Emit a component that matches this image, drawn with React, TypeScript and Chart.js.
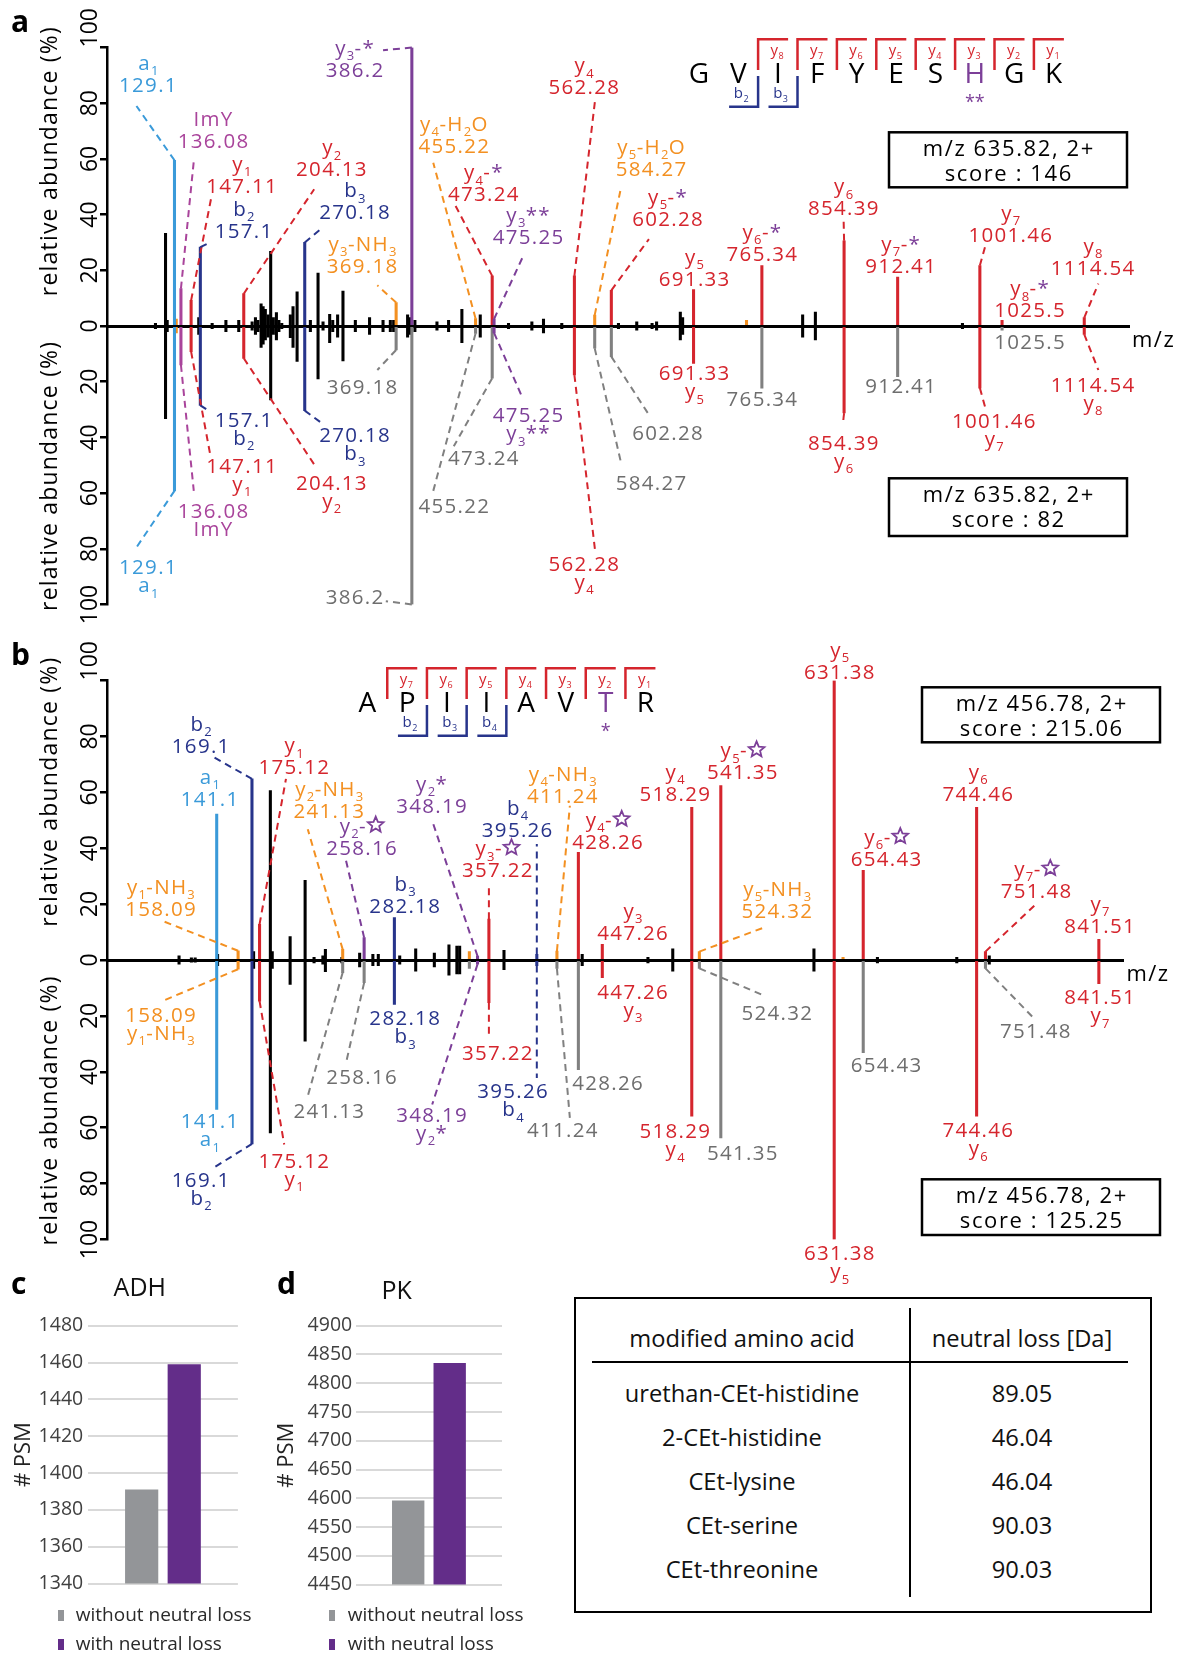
import React, { useEffect, useRef } from 'react';
import { Chart, registerables } from 'chart.js';

Chart.register(...registerables);

const FONT = "'Open Sans', 'DejaVu Sans', sans-serif";
const font = (size: number, weight = 'normal') => `${weight} ${size}px ${FONT}`;

// ---------------- DATA: panel a (m/z 635.82, 2+) ----------------
const aBlackMz = [108.5, 119.4, 121.2, 155.4, 169.9, 184.8, 198.7, 213.2, 216.8, 219.5, 222.9, 225.1, 227.5, 230.5, 233.3, 236.2, 239.5, 242.2, 245.3, 254.6, 257.5, 261.9, 276.3, 284.6, 290.0, 297.2, 300.5, 305.8, 311.6, 325.0, 340.4, 355.0, 362.9, 366.5, 381.6, 384.0, 389.5, 413.4, 426.0, 440.4, 460.3, 490.9, 516.2, 528.8, 548.6, 610.0, 629.8, 646.4, 651.3, 677.0, 679.5, 809.5, 823.3, 982.6];
const aBlackTop = [1, 33.3, 2, 3, 1, 2, 2, 1.5, 3, 2, 8, 7, 6, 4, 26.8, 3, 4.8, 2, 1, 4, 7, 12.3, 2, 19, 1.5, 4.2, 2, 4, 12.5, 2, 3, 2, 2, 2, 4, 3, 2, 1.5, 2, 6, 4, 1, 1.5, 2.5, 1, 1, 1.5, 1, 1.5, 5, 3, 4, 5, 1];
const aBlackBottom = [1, 33.3, 2, 3, 1, 2, 2, 1.5, 3, 2, 7.7, 6.5, 5, 4, 26.5, 3, 5, 2, 1, 4.2, 7.7, 12.7, 2, 19, 1.5, 6, 2, 4, 12.5, 2, 3, 2, 2, 2, 4, 3, 2, 1.5, 2, 6, 4, 1, 1.5, 2.5, 1, 1, 1.5, 1, 1.5, 5, 3, 4, 5, 1];
// [m/z, top %, bottom %, top ion type, bottom ion type]
const aMinor: [number, number, number, string, string][] = [
  [131.0, 2.5, 2.5, 'nl', 'nl'],
  [748.7, 2, 0, 'nl', 'pred'],
];
// [label, height %, label m/z, label %, leader m/z, leader %, ion name, ion type]
type Ion = [string, number, number, number, number | null, number | null, string, string];
const aTopIons: Ion[] = [
  ['129.1', 59.5, 100.2, 86.6, 87.9, 79.0, 'a_1', 'a'],
  ['136.08', 13.4, 170.7, 66.4, 150.0, 59.2, 'ImY', 'imm'],
  ['147.11', 9.2, 201.6, 50.3, 168.6, 45.5, 'y_1', 'y'],
  ['157.1', 28.3, 203.8, 34.2, 164.5, 29.5, 'b_2', 'b'],
  ['204.13', 11.6, 299.0, 56.2, 280.4, 49.1, 'y_2', 'y'],
  ['270.18', 30.0, 324.0, 40.8, 288.7, 35.1, 'b_3', 'b'],
  ['369.18', 8.4, 332.2, 21.7, 348.8, 14.6, 'y_3-NH_3', 'nl'],
  ['386.2', 100, 324.0, 92.0, 355.0, 99.0, 'y_3-*', 'mod'],
  ['455.22', 2.7, 431.6, 64.6, 409.4, 58.6, 'y_4-H_2O', 'nl'],
  ['473.24', 18.0, 463.5, 47.3, 433.6, 43.1, 'y_4-*', 'y'],
  ['475.25', 2.5, 512.0, 31.9, 506.2, 24.7, 'y_3**', 'mod'],
  ['562.28', 18.0, 572.3, 85.7, 584.7, 81.2, 'y_4', 'y'],
  ['584.27', 3.9, 645.3, 56.5, 612.0, 48.5, 'y_5-H_2O', 'nl'],
  ['602.28', 12.8, 663.0, 38.4, 643.0, 31.2, 'y_5-*', 'y'],
  ['691.33', 13.1, 691.9, 17.0, null, null, 'y_5', 'y'],
  ['765.34', 21.7, 765.3, 25.9, null, null, 'y_6-*', 'y'],
  ['854.39', 30.6, 853.4, 42.2, 853.9, 37.8, 'y_6', 'y'],
  ['912.41', 17.6, 915.6, 21.7, null, null, 'y_7-*', 'y'],
  ['1001.46', 21.7, 1034.4, 32.7, 1007.5, 28.9, 'y_7', 'y'],
  ['1025.5', 2.0, 1055.2, 5.6, null, null, 'y_8-*', 'y'],
  ['1114.54', 3.0, 1123.4, 20.8, 1129.8, 15.2, 'y_8', 'y'],
];
const aBottomIons: Ion[] = [
  ['129.1', -59.2, 100.2, -86.6, 87.9, -79.5, 'a_1', 'a'],
  ['136.08', -14.0, 170.7, -66.3, 150.0, -59.2, 'ImY', 'imm'],
  ['147.11', -9.2, 201.6, -50.2, 167.7, -46.0, 'y_1', 'y'],
  ['157.1', -28.5, 203.8, -33.6, 164.5, -30.1, 'b_2', 'b'],
  ['204.13', -11.6, 299.0, -56.3, 280.4, -49.7, 'y_2', 'y'],
  ['270.18', -30.4, 324.0, -39.2, 290.8, -35.4, 'b_3', 'b'],
  ['369.18', -8.6, 332.2, -22.0, 348.8, -15.8, '', 'pred'],
  ['386.2', -100, 324.0, -97.3, 358.0, -98.8, '', 'pred'],
  ['455.22', -2.7, 431.6, -64.6, 409.4, -59.2, '', 'pred'],
  ['473.24', -18.75, 463.5, -47.3, 431.6, -43.2, '', 'pred'],
  ['475.25', -2.5, 512.0, -32.1, 506.2, -25.9, 'y_3**', 'mod'],
  ['562.28', -17.6, 572.3, -85.4, 584.7, -80.7, 'y_4', 'y'],
  ['584.27', -8.0, 645.3, -56.3, 613.2, -49.7, '', 'pred'],
  ['602.28', -11.0, 663.0, -38.4, 643.0, -31.9, '', 'pred'],
  ['691.33', -13.4, 691.9, -17.0, null, null, 'y_5', 'y'],
  ['765.34', -22.3, 765.3, -26.1, null, null, '', 'pred'],
  ['854.39', -31.25, 853.4, -42.0, 853.0, -35.4, 'y_6', 'y'],
  ['912.41', -18.2, 915.6, -21.7, null, null, '', 'pred'],
  ['1001.46', -22.3, 1016.5, -34.0, 1007.5, -29.5, 'y_7', 'y'],
  ['1025.5', -1.5, 1055.2, -5.6, null, null, '', 'pred'],
  ['1114.54', -3.0, 1123.4, -21.1, 1129.8, -15.8, 'y_8', 'y'],
];

// ---------------- DATA: panel b (m/z 456.78, 2+) ----------------
const bBlackMz = [111.2, 121.0, 124.0, 141.8, 170.4, 183.7, 185.2, 199.4, 211.3, 218.4, 225.4, 227.4, 240.5, 254.6, 265.1, 269.4, 286.4, 299.1, 313.9, 325.5, 331.8, 334.0, 369.2, 431.3, 483.5, 503.2, 615.3, 665.7, 728.7, 754.5];
const bBlackTop = [1.5, 0.8, 0.8, 2, 3, 60.6, 3, 8.4, 28.5, 1, 1.5, 3.8, 1, 2.5, 2, 2, 1.5, 4, 2.5, 5.4, 5, 5, 3.5, 2, 1, 4, 4, 1, 1, 1.5];
const bBlackBottom = [1.5, 0.8, 0.8, 2, 3, 61.9, 3, 8.7, 29, 1, 1.5, 4.2, 1, 2.5, 2, 2, 1.5, 4, 2.5, 5.4, 5, 5, 3.5, 2, 1, 4, 4, 1, 1, 1.5];
const bMinor: [number, number, number, string, string][] = [
  [341.7, 3, 3, 'nl', 'pred'],
  [638.4, 1, 0, 'nl', 'pred'],
];
const bTopIons: Ion[] = [
  ['169.1', 64.8, 128.3, 76.7, 139.0, 72.5, 'b_2', 'b'],
  ['141.1', 52.2, 135.3, 57.6, null, null, 'a_1', 'a'],
  ['175.12', 12.8, 202.2, 68.9, 196.1, 64.8, 'y_1', 'y'],
  ['158.09', 3.3, 96.4, 18.2, 97.9, 14.0, 'y_1-NH_3', 'nl'],
  ['241.13', 3.8, 230.1, 53.4, 213.4, 46.8, 'y_2-NH_3', 'nl'],
  ['258.16', 8.0, 256.0, 40.2, 243.8, 35.5, 'y_2-☆', 'mod'],
  ['348.19', 1.4, 311.6, 55.2, 312.2, 49.8, 'y_2*', 'mod'],
  ['282.18', 15.2, 290.3, 19.4, null, null, 'b_3', 'b'],
  ['357.22', 14.6, 363.8, 32.1, 357.22, 27.1, 'y_3-☆', 'y'],
  ['395.26', 2.0, 379.6, 46.5, 395.26, 41.5, 'b_4', 'b'],
  ['411.24', 3.2, 415.5, 58.8, 421.5, 55.2, 'y_4-NH_3', 'nl'],
  ['428.26', 38.5, 451.3, 42.3, null, null, 'y_4-☆', 'y'],
  ['447.26', 5.6, 471.3, 9.8, null, null, 'y_3', 'y'],
  ['518.29', 54.6, 504.7, 59.4, null, null, 'y_4', 'y'],
  ['541.35', 62.4, 558.4, 67.1, null, null, 'y_5-☆', 'y'],
  ['524.32', 3.0, 585.8, 17.6, 576.7, 11.8, 'y_5-NH_3', 'nl'],
  ['631.38', 100, 635.4, 103.0, null, null, 'y_5', 'y'],
  ['654.43', 32.1, 672.5, 36.1, null, null, 'y_6-☆', 'y'],
  ['744.46', 54.6, 745.4, 59.4, null, null, 'y_6', 'y'],
  ['751.48', 3.0, 791.6, 24.7, 790.9, 19.7, 'y_7-☆', 'y'],
  ['841.51', 7.4, 842.0, 12.2, null, null, 'y_7', 'y'],
];
const bBottomIons: Ion[] = [
  ['158.09', -3.3, 96.4, -19.5, 97.9, -14.7, 'y_1-NH_3', 'nl'],
  ['141.1', -53.5, 135.3, -57.7, null, null, 'a_1', 'a'],
  ['169.1', -65.8, 128.3, -78.6, 139.0, -74.2, 'b_2', 'b'],
  ['175.12', -14.7, 202.2, -71.8, 194.7, -66.0, 'y_1', 'y'],
  ['241.13', -4.5, 230.1, -53.9, 213.4, -48.7, '', 'pred'],
  ['258.16', -8.1, 256.0, -41.9, 243.8, -36.8, '', 'pred'],
  ['282.18', -15.9, 290.3, -20.9, null, null, 'b_3', 'b'],
  ['348.19', -1.5, 311.6, -55.3, 312.2, -51.7, 'y_2*', 'mod'],
  ['357.22', -15.3, 363.8, -33.2, 357.22, -27.8, '', 'y'],
  ['395.26', -2.0, 376.0, -47.0, 395.26, -42.2, 'b_4', 'b'],
  ['411.24', -3.0, 415.5, -61.0, 421.5, -56.5, '', 'pred'],
  ['428.26', -39.2, 451.3, -43.9, null, null, '', 'pred'],
  ['447.26', -6.3, 471.3, -11.4, null, null, 'y_3', 'y'],
  ['518.29', -55.9, 504.7, -61.3, null, null, 'y_4', 'y'],
  ['541.35', -63.7, 558.4, -69.0, null, null, '', 'pred'],
  ['524.32', -3.0, 585.8, -18.9, 576.7, -12.9, '', 'pred'],
  ['631.38', -100, 635.4, -105.0, null, null, 'y_5', 'y'],
  ['654.43', -33.2, 672.5, -37.4, null, null, '', 'pred'],
  ['744.46', -55.9, 745.4, -61.0, null, null, 'y_6', 'y'],
  ['751.48', -3.0, 791.0, -25.4, 790.9, -21.3, '', 'pred'],
  ['841.51', -8.5, 842.0, -13.3, null, null, 'y_7', 'y'],
];

// ---------------- DATA: panels c, d and table ----------------
const psmSeries = ['without neutral loss', 'with neutral loss'];
const adhPsm = [1391, 1459];
const pkPsm = [4596, 4835];
const tableHeaders = ['modified amino acid', 'neutral loss [Da]'];
const modifiedAminoAcids = ['urethan-CEt-histidine', '2-CEt-histidine', 'CEt-lysine', 'CEt-serine', 'CEt-threonine'];
const neutralLosses = ['89.05', '46.04', '46.04', '90.03', '90.03'];

// ---------------- STYLES ----------------
const TYPE_COLOR: Record<string, string> = {
  a: '#3a9ad9', b: '#27348b', y: '#d5252d', imm: '#a9449b', nl: '#f39021', mod: '#7c3f98', pred: '#808080', k: '#000000',
};
const textColor = (t: string) => (t === 'pred' ? '#6e6e6e' : TYPE_COLOR[t]);
const PSM_COLORS = ['#939598', '#632d89'];
const LABEL_SIZE = 20.5;
const LABEL_LS = 1.3;

function tokens(s: string) {
  const out: { t: string; sub: boolean }[] = [];
  for (let i = 0; i < s.length; i++) {
    if (s[i] === '_' && i + 1 < s.length) { out.push({ t: s[i + 1], sub: true }); i++; }
    else out.push({ t: s[i], sub: false });
  }
  return out;
}

function drawStar(ctx: CanvasRenderingContext2D, cx: number, cy: number, r: number, color: string) {
  ctx.save();
  ctx.beginPath();
  for (let k = 0; k < 10; k++) {
    const ang = -Math.PI / 2 + (k * Math.PI) / 5;
    const rr = k % 2 === 0 ? r : r * 0.45;
    const px = cx + rr * Math.cos(ang), py = cy + rr * Math.sin(ang);
    if (k === 0) ctx.moveTo(px, py); else ctx.lineTo(px, py);
  }
  ctx.closePath();
  ctx.setLineDash([]);
  ctx.strokeStyle = color;
  ctx.lineWidth = 1.8;
  ctx.stroke();
  ctx.restore();
}

function drawRich(ctx: CanvasRenderingContext2D, s: string, x0: number, base: number, color: string, size: number, ls: number, align = 'center') {
  const toks = tokens(s);
  const subSize = Math.round(size * 0.62);
  const ws = toks.map(tk => {
    if (tk.t === '☆') return size * 0.85;
    ctx.font = font(tk.sub ? subSize : size);
    return ctx.measureText(tk.t).width + (tk.sub ? 0.4 : ls);
  });
  const total = ws.reduce((a, b) => a + b, 0) - ls;
  let x = align === 'center' ? x0 - total / 2 : align === 'left' ? x0 : x0 - total;
  ctx.textAlign = 'left';
  ctx.textBaseline = 'alphabetic';
  toks.forEach((tk, i) => {
    if (tk.t === '☆') {
      drawStar(ctx, x + ws[i] / 2, base - size * 0.38, size * 0.4, TYPE_COLOR.mod);
    } else {
      ctx.font = font(tk.sub ? subSize : size);
      ctx.fillStyle = tk.t === '*' ? TYPE_COLOR.mod : color;
      ctx.fillText(tk.t, x, tk.sub ? base + size * 0.26 : base);
    }
    x += ws[i];
  });
}

function drawPanel(chart: any, cfg: any) {
  const ctx: CanvasRenderingContext2D = chart.ctx;
  const ca = chart.chartArea;
  const xs = chart.scales.x, ys = chart.scales.y;
  const X = (v: number) => xs.getPixelForValue(v);
  const Y = (v: number) => ys.getPixelForValue(v);
  ctx.save();

  // leader lines
  ctx.lineWidth = 2;
  ctx.setLineDash([7, 5]);
  [...cfg.top, ...cfg.bottom].forEach((ion: Ion) => {
    const [lab, h, , , dx, dy, , type] = ion;
    if (dx === null || dy === null) return;
    ctx.strokeStyle = TYPE_COLOR[type];
    ctx.beginPath();
    ctx.moveTo(X(parseFloat(lab)), Y(h));
    ctx.lineTo(X(dx), Y(dy));
    ctx.stroke();
  });
  ctx.setLineDash([]);

  // peak labels
  cfg.top.forEach((ion: Ion) => {
    const [lab, , lx, ly, , , name, type] = ion;
    const cx = X(lx), base = Y(ly) + 7;
    drawRich(ctx, lab, cx, base, textColor(type), LABEL_SIZE, LABEL_LS);
    if (name) drawRich(ctx, name, cx, base - 22, textColor(type), LABEL_SIZE, LABEL_LS);
  });
  cfg.bottom.forEach((ion: Ion) => {
    const [lab, , lx, ly, , , name, type] = ion;
    const cx = X(lx), base = Y(ly) + 7;
    drawRich(ctx, lab, cx, base, textColor(type), LABEL_SIZE, LABEL_LS);
    if (name) drawRich(ctx, name, cx, base + 18, textColor(type), LABEL_SIZE, LABEL_LS);
  });

  // y tick labels (rotated)
  ctx.fillStyle = '#000';
  ctx.font = font(23);
  ys.ticks.forEach((t: any) => {
    const py = Y(t.value);
    ctx.save();
    ctx.translate(88, py);
    ctx.rotate(-Math.PI / 2);
    ctx.textBaseline = 'alphabetic';
    ctx.textAlign = t.value === ys.max ? 'left' : 'center';
    ctx.fillText(String(Math.abs(t.value)), 0, 8.5);
    ctx.restore();
  });
  // y titles
  cfg.titlePcts.forEach((p: number) => {
    ctx.save();
    ctx.translate(48.5, Y(p));
    ctx.rotate(-Math.PI / 2);
    drawRich(ctx, 'relative abundance (%)', 0, 8, '#000', 23, 1.2);
    ctx.restore();
  });
  // x title
  drawRich(ctx, 'm/z', ca.right + 3, Y(0) + 20.5, '#000', 22, 1.5, 'left');

  // panel letter
  ctx.fillStyle = '#000';
  ctx.font = font(30, 'bold');
  ctx.textAlign = 'left';
  ctx.fillText(cfg.letter, 11, cfg.letterBaseline);

  // sequence
  const { seq, seqX0, seqDx, seqY, seqMods, seqMark, yStart, bIdx } = cfg;
  const n = seq.length;
  const px = (i: number) => seqX0 + i * seqDx;
  ctx.textAlign = 'center';
  ctx.font = font(28);
  for (let i = 0; i < n; i++) {
    ctx.fillStyle = seqMods.includes(i) ? TYPE_COLOR.mod : '#000';
    ctx.fillText(seq[i], px(i), seqY + 10);
  }
  ctx.fillStyle = TYPE_COLOR.mod;
  ctx.font = font(18);
  seqMods.forEach((i: number) => ctx.fillText(seqMark, px(i), seqY + 35));
  ctx.lineWidth = 2.5;
  ctx.strokeStyle = TYPE_COLOR.y;
  for (let i = yStart; i < n - 1; i++) {
    const m = (px(i) + px(i + 1)) / 2;
    ctx.beginPath();
    ctx.moveTo(m, seqY - 2.7);
    ctx.lineTo(m, seqY - 33.4);
    ctx.lineTo(m + 30, seqY - 33.4);
    ctx.stroke();
    drawRich(ctx, 'y_' + (n - 1 - i), m + 19, seqY - 18, TYPE_COLOR.y, 15, 0.5);
  }
  ctx.strokeStyle = TYPE_COLOR.b;
  bIdx.forEach((i: number) => {
    const m = (px(i) + px(i + 1)) / 2;
    ctx.beginPath();
    ctx.moveTo(m, seqY + 3.3);
    ctx.lineTo(m, seqY + 34);
    ctx.lineTo(m - 29, seqY + 34);
    ctx.stroke();
    drawRich(ctx, 'b_' + (i + 1), m - 17, seqY + 25.5, TYPE_COLOR.b, 15, 0.5);
  });

  // info boxes
  cfg.boxes.forEach((b: any) => {
    ctx.lineWidth = 2.5;
    ctx.strokeStyle = '#000';
    ctx.strokeRect(b.x, b.y, b.w, b.h);
    b.lines.forEach((l: string, i: number) => {
      drawRich(ctx, l, b.x + b.w / 2, b.y + 23.5 + i * 25.5, '#000', 22, 1.6);
    });
  });
  ctx.restore();
}

function buildPeaks(blackMz: number[], blackTop: number[], blackBottom: number[], minor: any[], topIons: Ion[], bottomIons: Ion[]) {
  const top: any[] = [], topC: string[] = [], bot: any[] = [], botC: string[] = [];
  blackMz.forEach((m, i) => {
    top.push({ x: m, y: blackTop[i] }); topC.push('#000');
    bot.push({ x: m, y: -blackBottom[i] }); botC.push('#000');
  });
  minor.forEach(([m, t, b, tt, bt]: any) => {
    if (t) { top.push({ x: m, y: t }); topC.push(TYPE_COLOR[tt]); }
    if (b) { bot.push({ x: m, y: -b }); botC.push(TYPE_COLOR[bt]); }
  });
  topIons.forEach(ion => { top.push({ x: parseFloat(ion[0]), y: ion[1] }); topC.push(TYPE_COLOR[ion[7]]); });
  bottomIons.forEach(ion => { bot.push({ x: parseFloat(ion[0]), y: ion[1] }); botC.push(TYPE_COLOR[ion[7]]); });
  return { top, topC, bot, botC };
}

const panelA = {
  letter: 'a', letterBaseline: 31.7, xMin: 56, xMax: 1163,
  padding: { top: 47.5, bottom: 20.5, left: 0, right: 58 },
  peaks: buildPeaks(aBlackMz, aBlackTop, aBlackBottom, aMinor, aTopIons, aBottomIons),
  top: aTopIons, bottom: aBottomIons,
  seq: 'GVIFYESHGK', seqMods: [7], seqMark: '**', seqX0: 699, seqDx: 39.4, seqY: 72.7, yStart: 1, bIdx: [1, 2],
  boxes: [
    { x: 889, y: 132.3, w: 238, h: 55, lines: ['m/z 635.82, 2+', 'score : 146'] },
    { x: 889, y: 478.3, w: 238, h: 57.7, lines: ['m/z 635.82, 2+', 'score : 82'] },
  ],
  titlePcts: [59, -54],
};

const panelB = {
  letter: 'b', letterBaseline: 40, xMin: 54, xMax: 861,
  padding: { top: 55.5, bottom: 45.5, left: 0, right: 63.6 },
  peaks: buildPeaks(bBlackMz, bBlackTop, bBlackBottom, bMinor, bTopIons, bBottomIons),
  top: bTopIons, bottom: bBottomIons,
  seq: 'APIIAVTR', seqMods: [6], seqMark: '*', seqX0: 367.4, seqDx: 39.7, seqY: 76.7, yStart: 0, bIdx: [1, 2, 3],
  boxes: [
    { x: 922, y: 62.3, w: 238, h: 55, lines: ['m/z 456.78, 2+', 'score : 215.06'] },
    { x: 922, y: 554.3, w: 238, h: 55.7, lines: ['m/z 456.78, 2+', 'score : 125.25'] },
  ],
  titlePcts: [60, -54],
};

function Spectrum({ cfg, top, height }: { cfg: any; top: number; height: number }) {
  const ref = useRef<HTMLCanvasElement>(null);
  useEffect(() => {
    const p = cfg.peaks;
    const chart = new Chart(ref.current as HTMLCanvasElement, {
      type: 'bar',
      data: {
        datasets: [
          { data: p.top, backgroundColor: p.topC, barThickness: 2.4, grouped: false } as any,
          { data: p.bot, backgroundColor: p.botC, barThickness: 2.4, grouped: false } as any,
        ],
      },
      options: {
        responsive: false,
        animation: false,
        events: [],
        layout: { padding: cfg.padding },
        plugins: { legend: { display: false }, tooltip: { enabled: false } },
        scales: {
          x: {
            type: 'linear', min: cfg.xMin, max: cfg.xMax, offset: false,
            position: { y: 0 } as any,
            grid: { display: false },
            ticks: { display: false },
            border: { display: true, width: 3, color: '#000' },
          },
          y: {
            type: 'linear', min: -100, max: 100,
            ticks: { display: false, stepSize: 20 },
            grid: { display: true, drawOnChartArea: false, drawTicks: true, tickLength: 7, color: '#000', lineWidth: 2.5 },
            border: { display: true, width: 2.5, color: '#000' },
            afterFit: (s: any) => { s.width = 107; },
          },
        },
      } as any,
      plugins: [{ id: 'decor' + cfg.letter, afterDatasetsDraw: (c: any) => drawPanel(c, cfg) }],
    });
    return () => chart.destroy();
  }, []);
  return <canvas ref={ref} width={1187} height={height} style={{ position: 'absolute', left: 0, top, width: 1187, height, display: 'block' }} />;
}

function PsmChart({ left, values, min, max, step, axisWidth, padRight, titlePad, tickPad }: any) {
  const ref = useRef<HTMLCanvasElement>(null);
  useEffect(() => {
    const chart = new Chart(ref.current as HTMLCanvasElement, {
      type: 'bar',
      data: {
        labels: [''],
        datasets: psmSeries.map((name, i) => ({
          label: name, data: [values[i]], backgroundColor: PSM_COLORS[i],
          categoryPercentage: 0.568, barPercentage: 0.78,
        })),
      },
      options: {
        responsive: false,
        animation: false,
        events: [],
        layout: { padding: { top: 25.7, bottom: 15, left: 0, right: padRight } },
        plugins: { legend: { display: false }, tooltip: { enabled: false } },
        scales: {
          x: { display: false },
          y: {
            min, max,
            ticks: { stepSize: step, font: { family: FONT, size: 19.5 }, color: '#404040', padding: tickPad, callback: (v: any) => String(v) },
            grid: { color: '#d9d9d9', lineWidth: 2, drawTicks: false },
            border: { display: false },
            title: { display: true, text: '# PSM', font: { family: FONT, size: 22 }, color: '#222', padding: { top: titlePad, bottom: 0 } },
            afterFit: (s: any) => { s.width = axisWidth; },
          },
        },
      } as any,
    });
    return () => chart.destroy();
  }, []);
  return <canvas ref={ref} width={260} height={300} style={{ position: 'absolute', left, top: 1300, width: 260, height: 300, display: 'block' }} />;
}

function Txt({ x, base, size, children, center, bold, color }: any) {
  return (
    <div style={{
      position: 'absolute', left: x, top: base - 0.888 * size, fontSize: size, lineHeight: `${size}px`,
      fontFamily: FONT, fontWeight: bold ? 700 : 400, whiteSpace: 'nowrap', color: color || '#111',
      transform: center ? 'translateX(-50%)' : undefined,
    }}>{children}</div>
  );
}

function Legend({ x, textX }: any) {
  return (
    <>
      {psmSeries.map((s, i) => (
        <React.Fragment key={s}>
          <div style={{ position: 'absolute', left: x, top: 1609.5 + i * 29.5, width: 6, height: 11, background: PSM_COLORS[i] }} />
          <Txt x={textX} base={1621.7 + i * 29.5} size={19} color="#2a2a2a">{s}</Txt>
        </React.Fragment>
      ))}
    </>
  );
}

export default function App() {
  const rowBase = [1402.7, 1446.9, 1491.1, 1535.3, 1579.5];
  return (
    <div style={{ position: 'absolute', left: 0, top: 0, width: 1187, height: 1654, background: '#fff', overflow: 'hidden', fontFamily: FONT }}>
      <Spectrum cfg={panelA} top={0} height={625} />
      <Spectrum cfg={panelB} top={625} height={660} />

      <Txt x={11} base={1295} size={30} bold color="#000">c</Txt>
      <Txt x={139.8} base={1296} size={25} center color="#111">ADH</Txt>
      <Txt x={277} base={1295} size={30} bold color="#000">d</Txt>
      <Txt x={396.6} base={1299.3} size={25} center color="#111">PK</Txt>

      <PsmChart left={0} values={adhPsm} min={1340} max={1480} step={20} axisWidth={88} padRight={22.1} titlePad={10.8} tickPad={4.8} />
      <PsmChart left={270} values={pkPsm} min={4450} max={4900} step={50} axisWidth={85.9} padRight={28} titlePad={3.5} tickPad={3.7} />
      <Legend x={58} textX={75.8} />
      <Legend x={329.3} textX={347.8} />

      <div style={{ position: 'absolute', left: 574, top: 1296.7, width: 578, height: 316.6, border: '2.5px solid #000', boxSizing: 'border-box' }} />
      <div style={{ position: 'absolute', left: 592, top: 1360.7, width: 536, height: 2, background: '#000' }} />
      <div style={{ position: 'absolute', left: 909, top: 1308, width: 2, height: 288.7, background: '#000' }} />
      <Txt x={742} base={1348.3} size={23.7} center>{tableHeaders[0]}</Txt>
      <Txt x={1022} base={1348.3} size={23.7} center>{tableHeaders[1]}</Txt>
      {modifiedAminoAcids.map((m, i) => (
        <React.Fragment key={m}>
          <Txt x={742} base={rowBase[i]} size={23.7} center>{m}</Txt>
          <Txt x={1022} base={rowBase[i]} size={23.7} center>{neutralLosses[i]}</Txt>
        </React.Fragment>
      ))}
    </div>
  );
}
